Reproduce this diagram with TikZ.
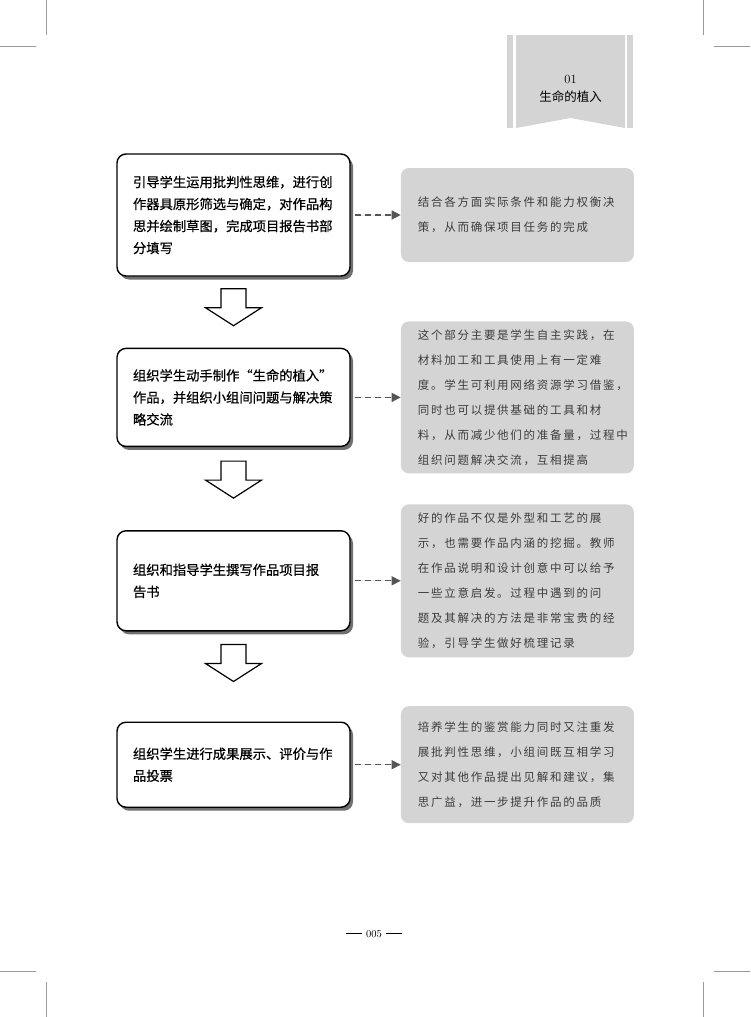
\documentclass[tikz,border=0pt]{standalone}
\usepackage{fontspec}
\usepackage{xcolor}
\usetikzlibrary{positioning,shadows,arrows.meta}

\newfontfamily\cjkfont{Noto Sans CJK SC}
\newfontfamily\cjktask[FakeBold=0.6]{Noto Sans CJK SC}
\newfontfamily\cjknote[LetterSpace=15]{Noto Sans CJK SC}

\definecolor{notegray}{HTML}{D4D4D4}
\definecolor{notetext}{HTML}{3C3C3C}
\definecolor{linkgray}{HTML}{555555}
\definecolor{markgray}{HTML}{9A9A9A}

\begin{document}
\begin{tikzpicture}[
    x=1pt, y=-1pt,
    >={Triangle[length=9pt,width=9pt]},
    task/.style={rectangle, draw, line width=1.4pt, fill=white, rounded corners=9pt,
        inner xsep=16pt, text width=201pt, align=left,
        font=\cjktask\fontsize{13.3}{22}\selectfont,
        drop shadow={shadow xshift=3pt, shadow yshift=-3.5pt, fill=black!80, opacity=0.7}},
    note/.style={rectangle, fill=notegray, rounded corners=8pt,
        inner xsep=17pt, text width=199pt, align=left, text=notetext,
        font=\cjknote\fontsize{11.5}{25}\selectfont},
    flowarrow/.style={draw, line width=1.2pt, fill=white, line join=miter},
    link/.style={->, dashed, dash pattern=on 6pt off 4pt, line width=1.3pt,
        draw=linkgray, fill=linkgray, shorten <=4pt},
    cropmark/.style={draw=markgray, line width=1pt}
]
\useasboundingbox (0,0) rectangle (750,1017);

% Chapter tab
\fill[notegray] (507,35) rectangle (513,128);
\fill[notegray] (627,35) rectangle (633,128);
\fill[notegray] (516,35) -- (625,35) -- (625,128) -- (570.5,118) -- (516,128) -- cycle;
\node[align=center, font=\fontsize{12.5}{18}\selectfont] (tab) at (570.5,89) {01\\{\cjkfont 生命的植入}};

% Steps
\node[task, minimum height=122pt] (step1) at (233.5,215) {引导学生运用批判性思维，进行创\\作器具原形筛选与确定，对作品构\\思并绘制草图，完成项目报告书部\\分填写};
\node[task, minimum height=98pt, below=71pt of step1] (step2) {组织学生动手制作“生命的植入”\\作品，并组织小组间问题与解决策\\略交流};
\node[task, minimum height=100pt, below=83pt of step2] (step3) {组织和指导学生撰写作品项目报\\告书};
\node[task, minimum height=85pt, below=90pt of step3] (step4) {组织学生进行成果展示、评价与作\\品投票};

% Notes
\node[note, minimum height=94pt, right=50pt of step1] (note1) {结合各方面实际条件和能力权衡决\\策，从而确保项目任务的完成};
\node[note, minimum height=152pt, right=50pt of step2] (note2) {这个部分主要是学生自主实践，在\\材料加工和工具使用上有一定难\\度。学生可利用网络资源学习借鉴，\\同时也可以提供基础的工具和材\\料，从而减少他们的准备量，过程中\\组织问题解决交流，互相提高};
\node[note, minimum height=153pt, right=50pt of step3] (note3) {好的作品不仅是外型和工艺的展\\示，也需要作品内涵的挖掘。教师\\在作品说明和设计创意中可以给予\\一些立意启发。过程中遇到的问\\题及其解决的方法是非常宝贵的经\\验，引导学生做好梳理记录};
\node[note, minimum height=117pt, right=50pt of step4] (note4) {培养学生的鉴赏能力同时又注重发\\展批判性思维，小组间既互相学习\\又对其他作品提出见解和建议，集\\思广益，进一步提升作品的品质};

% Flow arrows
\coordinate[below=12pt of step1] (down1);
\coordinate[below=14pt of step2] (down2);
\coordinate[below=13pt of step3] (down3);
\foreach \d in {down1,down2,down3}
    \draw[flowarrow] ([xshift=-12.5pt]\d) -- ++(25,0) -- ++(0,19) -- ++(15.5,0)
        -- ++(-28,18) -- ++(-28,-18) -- ++(15.5,0) -- cycle;

% Links
\draw[link] (step1) -- (note1);
\draw[link] (step2) -- (note2);
\draw[link] (step3) -- (note3);
\draw[link] (step4) -- (note4);

% Page number
\node[font=\fontsize{10.5}{12}\selectfont] (pagenum) at (374,934) {\rule[3pt]{16pt}{1.3pt}\hspace{4pt}005\hspace{4pt}\rule[3pt]{16pt}{1.3pt}};

% Crop marks
\draw[cropmark] (0,46) -- (36,46) (46,0) -- (46,35);
\draw[cropmark] (714,46) -- (750,46) (703,0) -- (703,35);
\draw[cropmark] (0,971) -- (36,971) (46,982) -- (46,1017);
\draw[cropmark] (714,971) -- (750,971) (703,982) -- (703,1017);

\end{tikzpicture}
\end{document}
